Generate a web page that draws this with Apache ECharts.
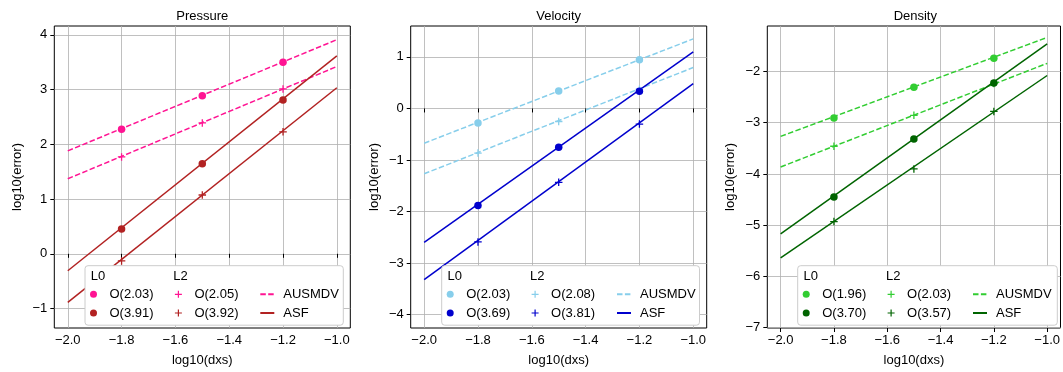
<!DOCTYPE html>
<html>
<head>
<meta charset="utf-8">
<script src="https://cdn.jsdelivr.net/npm/echarts@6/dist/echarts.min.js"></script>
<style>html,body{margin:0;padding:0;background:#fff}#chart{width:1063px;height:372px}</style>
</head>
<body>
<div id="chart"></div>
<script>
// ---------- DATA ----------
const titles = ['Pressure', 'Velocity', 'Density'];
const xTicks = [-2.0, -1.8, -1.6, -1.4, -1.2, -1.0];
const dxs = [-1.8, -1.5, -1.2];
const fitX = [-2.0, -1.0];

const yTicksPressure = [-1, 0, 1, 2, 3, 4];
const yTicksVelocity = [-4, -3, -2, -1, 0, 1];
const yTicksDensity = [-7, -6, -5, -4, -3, -2];

// Pressure
const pL0Ausmdv = [2.275, 2.888, 3.50];
const pL2Ausmdv = [1.77, 2.39, 3.01];
const pL0Asf = [0.454, 1.644, 2.81];
const pL2Asf = [-0.13, 1.074, 2.228];
const pL0AusmdvFit = [1.88, 3.91];
const pL2AusmdvFit = [1.37, 3.42];
const pL0AsfFit = [-0.31, 3.615];
const pL2AsfFit = [-0.886, 3.033];
const pOrdersL0 = ['O(2.03)', 'O(3.91)'];
const pOrdersL2 = ['O(2.05)', 'O(3.92)'];

// Velocity
const vL0Ausmdv = [-0.283, 0.341, 0.943];
const vL2Ausmdv = [-0.866, -0.253, 0.374];
const vL0Asf = [-1.881, -0.751, 0.335];
const vL2Asf = [-2.59, -1.433, -0.303];
const vL0AusmdvFit = [-0.674, 1.35];
const vL2AusmdvFit = [-1.268, 0.795];
const vL0AsfFit = [-2.60, 1.10];
const vL2AsfFit = [-3.32, 0.483];
const vOrdersL0 = ['O(2.03)', 'O(3.69)'];
const vOrdersL2 = ['O(2.08)', 'O(3.81)'];

// Density
const dL0Ausmdv = [-2.906, -2.309, -1.738];
const dL2Ausmdv = [-3.459, -2.856, -2.231];
const dL0Asf = [-4.449, -3.318, -2.226];
const dL2Asf = [-4.93, -3.903, -2.779];
const dL0AusmdvFit = [-3.267, -1.333];
const dL2AusmdvFit = [-3.864, -1.84];
const dL0AsfFit = [-5.17, -1.46];
const dL2AsfFit = [-5.638, -2.077];
const dOrdersL0 = ['O(1.96)', 'O(3.70)'];
const dOrdersL2 = ['O(2.03)', 'O(3.57)'];

const schemeNames = ['AUSMDV', 'ASF'];

// ---------- LAYOUT / STYLE ----------
const FONT = '"Liberation Sans", Arial, sans-serif';
const FS = 13;
const colorsAusmdv = ['#FF1493', '#87CEEB', '#32CD32'];
const colorsAsf = ['#B22222', '#0000CD', '#006400'];
const PLUS = 'path://M0 2.9H7V4.1H0Z M2.9 0H4.1V7H2.9Z';

const panels = [
  { yTicks: yTicksPressure, yMin: -1.355, yMax: 4.16,
    pts: [pL0Ausmdv, pL2Ausmdv, pL0Asf, pL2Asf], fits: [pL0AusmdvFit, pL2AusmdvFit, pL0AsfFit, pL2AsfFit],
    oL0: pOrdersL0, oL2: pOrdersL2 },
  { yTicks: yTicksVelocity, yMin: -4.26, yMax: 1.60,
    pts: [vL0Ausmdv, vL2Ausmdv, vL0Asf, vL2Asf], fits: [vL0AusmdvFit, vL2AusmdvFit, vL0AsfFit, vL2AsfFit],
    oL0: vOrdersL0, oL2: vOrdersL2 },
  { yTicks: yTicksDensity, yMin: -7.01, yMax: -1.11,
    pts: [dL0Ausmdv, dL2Ausmdv, dL0Asf, dL2Asf], fits: [dL0AusmdvFit, dL2AusmdvFit, dL0AsfFit, dL2AsfFit],
    oL0: dOrdersL0, oL2: dOrdersL2 }
];
const gridLefts = [54.3, 410.7, 767.3];
const gridTop = 26, gridW = 296, gridH = 306;
const boxLefts = [85, 441.7, 797.7];
const boxWidths = [258.3, 257.8, 259.6];
const boxTop = 265.7, boxH = 59.5;

const minus = s => String(s).replace('-', '\u2212');

const grids = [], xAxes = [], yAxes = [], series = [], legends = [], graphics = [];
const labelOf = {};

panels.forEach((p, i) => {
  grids.push({ left: gridLefts[i], top: gridTop, width: gridW, height: gridH,
    show: true, borderColor: '#000', borderWidth: 1, backgroundColor: 'transparent' });
  xAxes.push({ type: 'value', gridIndex: i, min: -2.05, max: -0.95,
    name: 'log10(dxs)', nameLocation: 'middle', nameGap: 26,
    nameTextStyle: { fontFamily: FONT, fontSize: FS, color: '#000' },
    axisLine: { show: false },
    axisTick: { show: true, length: 4, lineStyle: { color: '#000', width: 1 }, customValues: xTicks },
    axisLabel: { fontFamily: FONT, fontSize: FS, color: '#000', margin: 6, customValues: xTicks,
      formatter: v => minus(v.toFixed(1)) },
    splitLine: { show: true, lineStyle: { color: '#b0b0b0', width: 0.8 } } });
  yAxes.push({ type: 'value', gridIndex: i, min: p.yMin, max: p.yMax,
    name: 'log10(error)', nameLocation: 'middle', nameGap: 30,
    nameTextStyle: { fontFamily: FONT, fontSize: FS, color: '#000' },
    axisLine: { show: false },
    axisTick: { show: true, length: 4, lineStyle: { color: '#000', width: 1 }, customValues: p.yTicks },
    axisLabel: { fontFamily: FONT, fontSize: FS, color: '#000', margin: 7, customValues: p.yTicks,
      formatter: v => minus(Math.round(v)) },
    splitLine: { show: true, lineStyle: { color: '#b0b0b0', width: 0.8 } } });

  const cols = [colorsAusmdv[i], colorsAusmdv[i], colorsAsf[i], colorsAsf[i]];
  const tags = ['L0 AUSMDV', 'L2 AUSMDV', 'L0 ASF', 'L2 ASF'];
  // fit lines
  p.fits.forEach((f, k) => {
    const nm = titles[i] + ' ' + tags[k] + ' fit';
    series.push({ type: 'line', name: nm, xAxisIndex: i, yAxisIndex: i, symbol: 'none',
      data: fitX.map((x, j) => [x, f[j]]), z: 2,
      lineStyle: { color: cols[k], width: 1.5, type: k < 2 ? [5.5, 2.4] : 'solid' },
      itemStyle: { color: cols[k] }, silent: true, animation: false });
  });
  // points
  p.pts.forEach((arr, k) => {
    const nm = titles[i] + ' ' + tags[k] + ' pts';
    series.push({ type: 'scatter', name: nm, xAxisIndex: i, yAxisIndex: i,
      symbol: (k % 2 === 0) ? 'circle' : PLUS, symbolSize: 7.5,
      data: dxs.map((x, j) => [x, arr[j]]), z: 3,
      itemStyle: { color: cols[k], opacity: 1 }, silent: true, animation: false });
  });
  labelOf[titles[i] + ' L0 AUSMDV pts'] = p.oL0[0];
  labelOf[titles[i] + ' L0 ASF pts'] = p.oL0[1];
  labelOf[titles[i] + ' L2 AUSMDV pts'] = p.oL2[0];
  labelOf[titles[i] + ' L2 ASF pts'] = p.oL2[1];
  labelOf[titles[i] + ' L0 AUSMDV fit'] = schemeNames[0];
  labelOf[titles[i] + ' L0 ASF fit'] = schemeNames[1];

  // legend box
  const bl = boxLefts[i];
  graphics.push({ type: 'rect', z: 10, silent: true,
    shape: { x: bl, y: boxTop, width: boxWidths[i], height: boxH, r: 3 },
    style: { fill: '#ffffff', stroke: '#cccccc', lineWidth: 1 } });
  const colStarts = [5, 89.9, 174.3];
  const colData = [
    [titles[i] + ' L0 AUSMDV pts', titles[i] + ' L0 ASF pts'],
    [titles[i] + ' L2 AUSMDV pts', titles[i] + ' L2 ASF pts'],
    [titles[i] + ' L0 AUSMDV fit', titles[i] + ' L0 ASF fit']
  ];
  colData.forEach((d, c) => {
    const lg = { orient: 'vertical', left: bl + colStarts[c], top: 287.8, padding: 0,
      itemWidth: 14, itemHeight: 7, itemGap: 5.7, selectedMode: false, z: 20,
      data: d, formatter: n => labelOf[n],
      textStyle: { fontFamily: FONT, fontSize: FS, color: '#000', padding: [0, 0, 0, 4] } };
    if (c === 2) {
      lg.itemStyle = { color: 'rgba(0,0,0,0)', borderWidth: 0, opacity: 0 };
    }
    legends.push(lg);
  });
  graphics.push({ type: 'text', z: 20, silent: true, x: bl + 5.7, y: 276.5,
    style: { text: 'L0', font: FS + 'px ' + FONT, fill: '#000', verticalAlign: 'middle', textVerticalAlign: 'middle' } });
  graphics.push({ type: 'text', z: 20, silent: true, x: bl + 88.3, y: 276.5,
    style: { text: 'L2', font: FS + 'px ' + FONT, fill: '#000', verticalAlign: 'middle', textVerticalAlign: 'middle' } });
  // title
  graphics.push({ type: 'text', z: 20, silent: true, x: gridLefts[i] + gridW / 2, y: 16.5,
    style: { text: titles[i], font: FS + 'px ' + FONT, fill: '#000', align: 'center', textAlign: 'center',
      verticalAlign: 'middle', textVerticalAlign: 'middle' } });
});

const chart = echarts.init(document.getElementById('chart'), null, { renderer: 'canvas' });
chart.setOption({
  animation: false,
  backgroundColor: '#ffffff',
  grid: grids, xAxis: xAxes, yAxis: yAxes, series: series,
  legend: legends,
  graphic: { elements: graphics }
});
</script>
</body>
</html>
